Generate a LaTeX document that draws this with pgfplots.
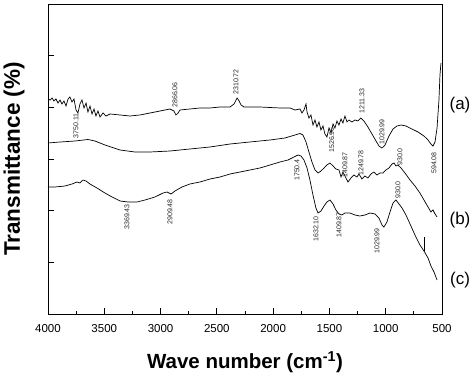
\documentclass[border=0pt]{standalone}
\usepackage{fontspec}
\setmainfont{Liberation Sans}
\usepackage{pgfplots}
\pgfplotsset{compat=1.18}
\begin{document}
\begin{tikzpicture}[curve/.style={black, line width=0.7pt, mark=none}]
\useasboundingbox (-48pt,-64pt) rectangle (426pt,314pt);
\begin{axis}[
  scale only axis, width=394pt, height=310pt,
  at={(0,0)}, anchor=south west,
  x dir=reverse, xmin=500, xmax=4000, ymin=0, ymax=310,
  xtick={500,1000,...,4000}, minor x tick num=1,
  ytick={51.67,103.33,155,206.67,258.33}, yticklabels={},
  tick pos=left, tick align=inside,
  major tick length=6pt, minor tick length=3.5pt,
  every tick/.style={black, line width=0.8pt},
  axis line style={line width=0.9pt},
  /pgf/number format/assume math mode=true,
  /pgf/number format/1000 sep={},
  xticklabel style={font=\fontsize{11.5}{12}\selectfont, yshift=-7pt},
  xlabel={\textbf{Wave number (cm\textsuperscript{-1})}},
  ylabel={\textbf{Transmittance (\%)}},
  xlabel style={font=\fontsize{20.5}{22}\selectfont, at={(axis description cs:0.5,-0.1548)}, anchor=center},
  ylabel style={font=\fontsize{22.5}{24}\selectfont, at={(axis description cs:-0.0863,0.5)}, anchor=center},
  clip=false,
]
% (a)
\addplot[curve] coordinates {
(4000,215)(3982,214)(3964,216)(3947,213)(3929,215)(3911,211)(3893,214)(3876,210)(3858,213)(3840,208)
(3822,215)(3805,217)(3787,212)(3769,215)(3751,204)(3734,201)(3716,210)(3698,214)(3680,206)(3662,211)
(3645,202)(3627,208)(3609,200)(3591,205)(3574,198)(3556,203)(3538,197)(3511,201)(3485,198)(3449,200)
(3360,199)(3272,198)(3183,199)(3094,201)(3005,203)(2916,205)(2881,203)(2863,199)(2845,201)(2827,204)
(2739,205)(2650,206)(2561,206)(2472,207)(2383,207)(2347,210)(2320,216)(2302,213)(2285,209)(2259,207)
(2117,207)(1939,206)(1850,206)(1806,204)(1761,205)(1744,201)(1726,204)(1708,210)(1699,202)(1682,196)
(1664,199)(1646,189)(1628,194)(1611,187)(1593,192)(1575,184)(1557,188)(1540,180)(1522,177)(1504,186)
(1486,181)(1468,190)(1451,186)(1433,193)(1415,189)(1397,195)(1380,191)(1362,198)(1344,192)(1326,194)
(1300,192)(1273,194)(1247,193)(1220,196)(1193,193)(1158,187)(1122,180)(1086,173)(1060,168)(1033,166)
(1006,169)(971,178)(935,185)(900,188)(864,189)(820,188)(767,185)(713,182)(660,178)(624,174)
(598,170)(580,168)(562,172)(544,186)(527,214)(518,239)(509,251)
};
% (b)
\addplot[curve] coordinates {
(4000,171)(3893,172)(3760,173)(3645,174.5)(3583,173)(3494,169)(3360,164)(3227,162)(3094,162)(2916,163)
(2739,165)(2561,167)(2383,170)(2206,172)(2028,174)(1895,176)(1806,179)(1761,180.5)(1735,179)(1708,172)
(1682,162)(1655,152)(1628,144)(1601,141)(1575,143)(1548,146)(1522,149)(1495,151)(1468,148)(1442,145)
(1415,144)(1397,137)(1380,142)(1362,138)(1335,132)(1309,136)(1282,139)(1255,137)(1238,140)(1211,135)
(1184,138)(1158,136)(1131,140)(1104,142)(1078,139)(1051,141)(1024,141)(998,144)(971,146)(944,150)
(926,151)(909,148)(891,149)(864,146)(829,141)(784,134)(740,128)(696,121)(660,114)(624,107)
(598,102)(580,104)(562,100)(544,97)
};
% (c)
\addplot[curve] coordinates {
(4000,127)(3938,127)(3849,128)(3787,130)(3742,132)(3716,131)(3689,134)(3662,133)(3627,130)(3565,126)
(3494,121)(3431,117)(3360,113)(3289,112)(3209,112)(3138,114)(3050,117)(2978,121)(2943,122)(2907,120)
(2872,123)(2810,127)(2739,130)(2650,132)(2561,135)(2472,137)(2383,140)(2294,142)(2206,144)(2117,146)
(2028,149)(1939,152)(1868,154)(1815,157)(1779,159)(1753,158)(1726,154)(1699,146)(1673,134)(1646,119)
(1620,106)(1601,101)(1575,103)(1548,108)(1522,112)(1495,114)(1468,110)(1442,104)(1415,100)(1389,99)
(1362,101)(1318,101)(1273,99)(1229,98)(1184,99)(1140,101)(1095,100)(1060,96)(1033,89)(1016,87)
(989,92)(962,102)(935,111)(909,114)(882,110)(855,106)(820,99)(784,90)(740,79)(696,69)
(660,63)(624,56)(598,48)(571,42)(544,34)
};
\addplot[curve] coordinates {(660,77)(660,63)};
% peak annotations
\begin{scope}[every node/.style={rotate=90, font=\fontsize{7}{8}\selectfont, text=black!85, inner sep=0pt}]
\node at (axis cs:3751,188) {3750.11};
\node at (axis cs:2872,219) {2866.06};
\node at (axis cs:2330,232) {2310.72};
\node at (axis cs:1480,174) {1526.96};
\node at (axis cs:1211,213) {1211.33};
\node at (axis cs:1033,182) {1029.99};
\node at (axis cs:571,151) {594.08};
\node at (axis cs:1362,149) {1409.87};
\node at (axis cs:1220,151) {1249.78};
\node at (axis cs:873,157) {930.0};
\node at (axis cs:1788,144) {1750.4};
\node at (axis cs:3298,97) {3369.43};
\node at (axis cs:2916,102) {2909.48};
\node at (axis cs:1620,85) {1632.10};
\node at (axis cs:1415,89) {1409.87};
\node at (axis cs:1078,73) {1029.99};
\node at (axis cs:891,124) {930.0};
\end{scope}
\begin{scope}[every node/.style={font=\fontsize{17}{18}\selectfont}]
\node at (axis cs:340,209) {(a)};
\node at (axis cs:340,94) {(b)};
\node at (axis cs:340,34) {(c)};
\end{scope}
\end{axis}
\end{tikzpicture}
\end{document}
